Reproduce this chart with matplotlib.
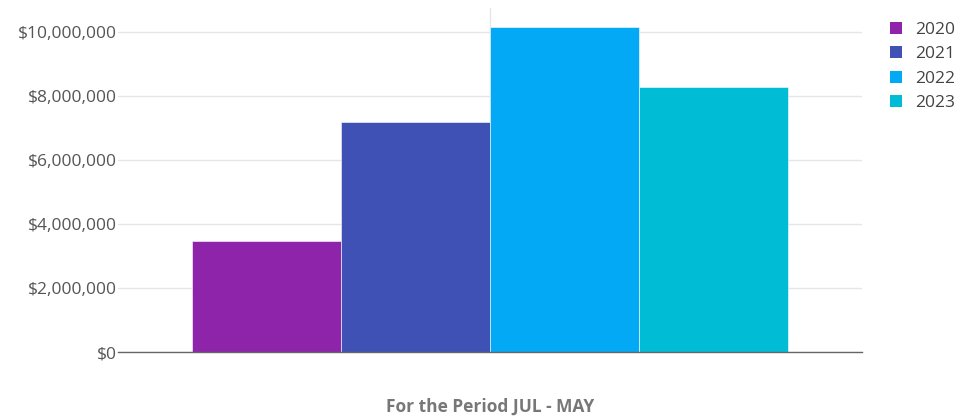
import matplotlib
matplotlib.use("Agg")
import matplotlib.pyplot as plt
from matplotlib.patches import Patch
from matplotlib.ticker import FuncFormatter

years = ["2020", "2021", "2022", "2023"]
values = [3480000, 7170000, 10160000, 8270000]
colors = ["#8E24AA", "#3F51B5", "#03A9F4", "#00BCD4"]
yticks = [0, 2000000, 4000000, 6000000, 8000000, 10000000]
xlabel = "For the Period JUL - MAY"

plt.rcParams['font.family'] = ['Open Sans', 'DejaVu Sans']

fig = plt.figure(figsize=(9.75, 4.19), dpi=100)
ax = fig.add_axes([118/975, 1-352/419, (862-118)/975, (352-8)/419])

n = len(values)
w = 0.8 / n
for i, (v, c) in enumerate(zip(values, colors)):
    x = -0.4 + w * (i + 0.5)
    ax.bar(x, v, width=w, color=c, edgecolor="white", linewidth=0.4, zorder=3)

ax.set_xlim(-0.5, 0.5)
ax.set_ylim(0, 10740000)
ax.set_yticks(yticks)
ax.yaxis.set_major_formatter(FuncFormatter(lambda v, p: "${:,.0f}".format(v)))
ax.tick_params(axis="y", length=0, pad=0.8, labelsize=12.5, labelcolor="#555555")
ax.set_xticks([0])
ax.set_xticklabels([""])
ax.tick_params(axis="x", length=0)
ax.grid(axis="y", color="#e6e6e6", linewidth=1, zorder=0)
ax.axvline(0, color="#e6e6e6", linewidth=1, zorder=0)
for s in ["top", "right", "left"]:
    ax.spines[s].set_visible(False)
ax.spines["bottom"].set_color("#666666")
ax.spines["bottom"].set_linewidth(1)
ax.spines["bottom"].set_zorder(4)

fig.text(490/975, 1-407/419, xlabel, ha="center", va="center",
         fontsize=12.5, fontweight="bold", color="#777777")

handles = [Patch(facecolor=c, edgecolor="none") for c in colors]
leg = fig.legend(handles, years, loc="upper left", bbox_to_anchor=(890/975, 1-22/419),
                 frameon=False, handlelength=0.69, handleheight=0.69,
                 handletextpad=0.75, labelspacing=0.47, fontsize=12.5,
                 borderaxespad=0, borderpad=0)
for t in leg.get_texts():
    t.set_color("#444444")

fig.savefig("out.png", dpi=100, facecolor="white")
